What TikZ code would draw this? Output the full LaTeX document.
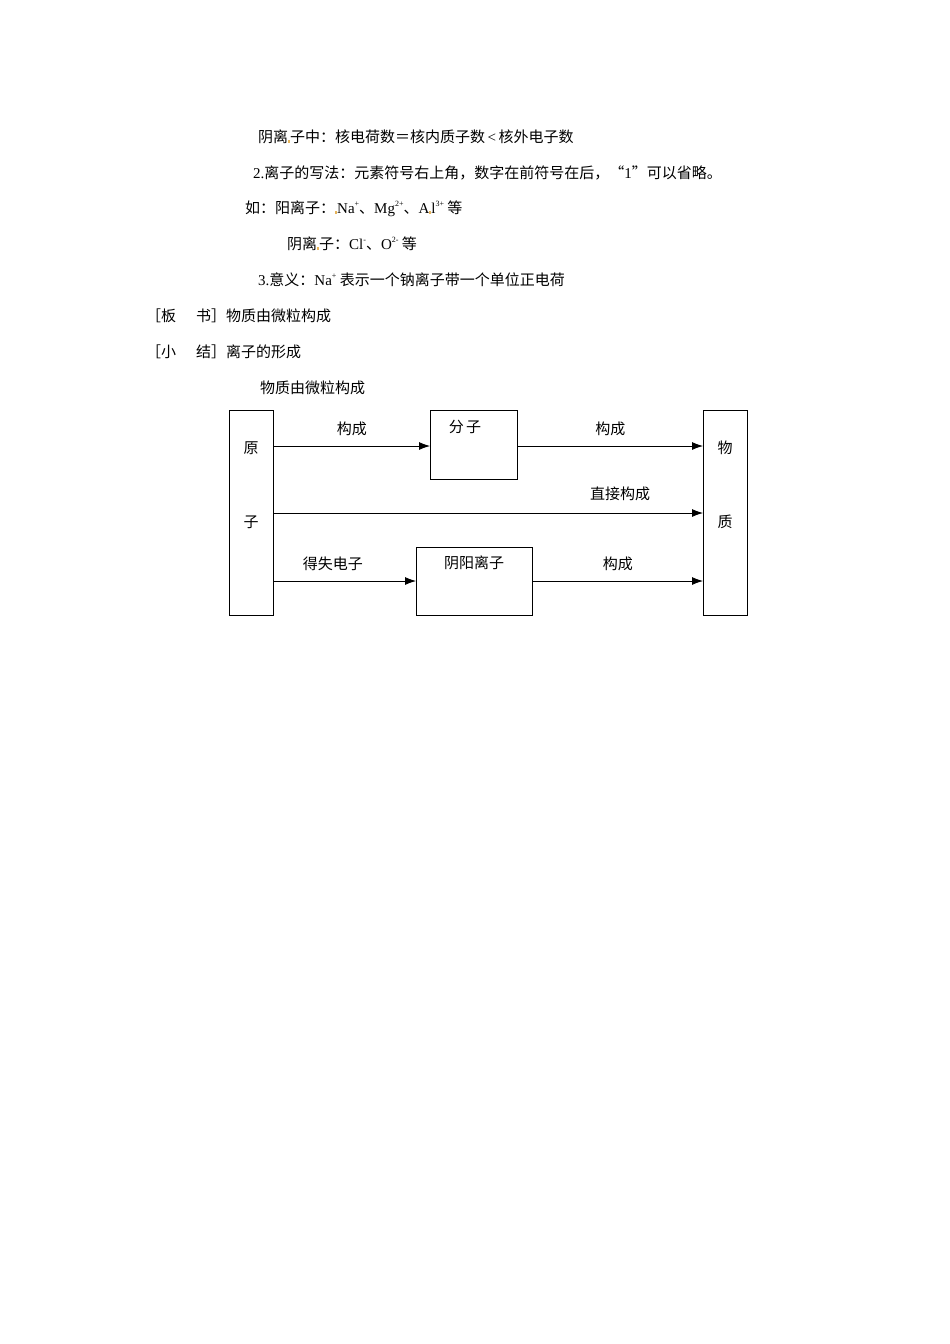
\documentclass[tikz,border=0pt]{standalone}
\usepackage{fontspec}
\setmainfont{Noto Sans CJK SC}
\newfontfamily\lat{Liberation Serif}
\usetikzlibrary{arrows.meta}
\definecolor{mk}{RGB}{230,180,90}
\newcommand{\mrk}{\textcolor{mk}{\rule{2pt}{3pt}}}
\newcommand{\sps}[1]{\raisebox{0.9ex}{\fontsize{8}{8}\selectfont\lat #1}}
\begin{document}
\begin{tikzpicture}[x=1pt,y=-1pt,
 txt/.style={anchor=west,inner sep=0pt,font=\fontsize{15}{18}\selectfont},
 box/.style={draw,line width=0.8pt,anchor=north west,inner sep=0pt},
 lbl/.style={inner sep=0pt,font=\fontsize{15}{18}\selectfont},
 arr/.style={-{Latex[length=11pt,width=8pt]},line width=0.8pt}]
\useasboundingbox[fill=white] (0,0) rectangle (950,1344);
\node[txt] (l1) at (258,137) {阴离\mrk 子中：核电荷数＝核内质子数{\lat\,<\,}核外电子数};
\node[txt] (l2) at (253,173) {{\lat 2.}离子的写法：元素符号右上角，数字在前符号在后，“{\lat 1}”可以省略。};
\node[txt] (l3) at (245,209) {如：阳离子：\mrk{\lat Na}\sps{+}、{\lat Mg}\sps{2+}、{\lat A}\mrk{\lat l}\sps{3+} 等};
\node[txt] (l4) at (287,244) {阴离\mrk 子：{\lat Cl}\sps{-}、{\lat O}\sps{2-} 等};
\node[txt] (l5) at (258,280) {{\lat 3.}意义：{\lat Na}\sps{+} 表示一个钠离子带一个单位正电荷};
\node[txt] (l6) at (146,316) {［板\hspace{20pt}书］物质由微粒构成};
\node[txt] (l7) at (146,352) {［小\hspace{20pt}结］离子的形成};
\node[txt] (title) at (260,388) {物质由微粒构成};
\node[box,minimum width=44pt,minimum height=205pt] (yz) at (229,410) {};
\node[box,minimum width=87pt,minimum height=69pt] (fz) at (430,410) {};
\node[box,minimum width=116pt,minimum height=68pt] (ly) at (416,547) {};
\node[box,minimum width=44pt,minimum height=205pt] (wz) at (703,410) {};
\node[lbl] (t1) at (251,448) {原};
\node[lbl] (t2) at (251,522) {子};
\node[lbl] (t3) at (725,448) {物};
\node[lbl] (t4) at (725,522) {质};
\node[lbl] (t5) at (465,427) {分\,子};
\node[lbl] (t6) at (474,563) {阴阳离子};
\draw[arr] (yz.east |- 0,446) -- node[lbl,above=10pt]{构成} (fz.west |- 0,446);
\draw[arr] (fz.east |- 0,446) -- node[lbl,above=10pt]{构成} (wz.west |- 0,446);
\draw[arr] (yz.east |- 0,513) -- (wz.west |- 0,513);
\node[lbl] (t7) at (620,494) {直接构成};
\draw[arr] (yz.east |- 0,581) -- node[lbl,above=10pt,xshift=-12pt]{得失电子} (ly.west |- 0,581);
\draw[arr] (ly.east |- 0,581) -- node[lbl,above=10pt]{构成} (wz.west |- 0,581);
\end{tikzpicture}
\end{document}
